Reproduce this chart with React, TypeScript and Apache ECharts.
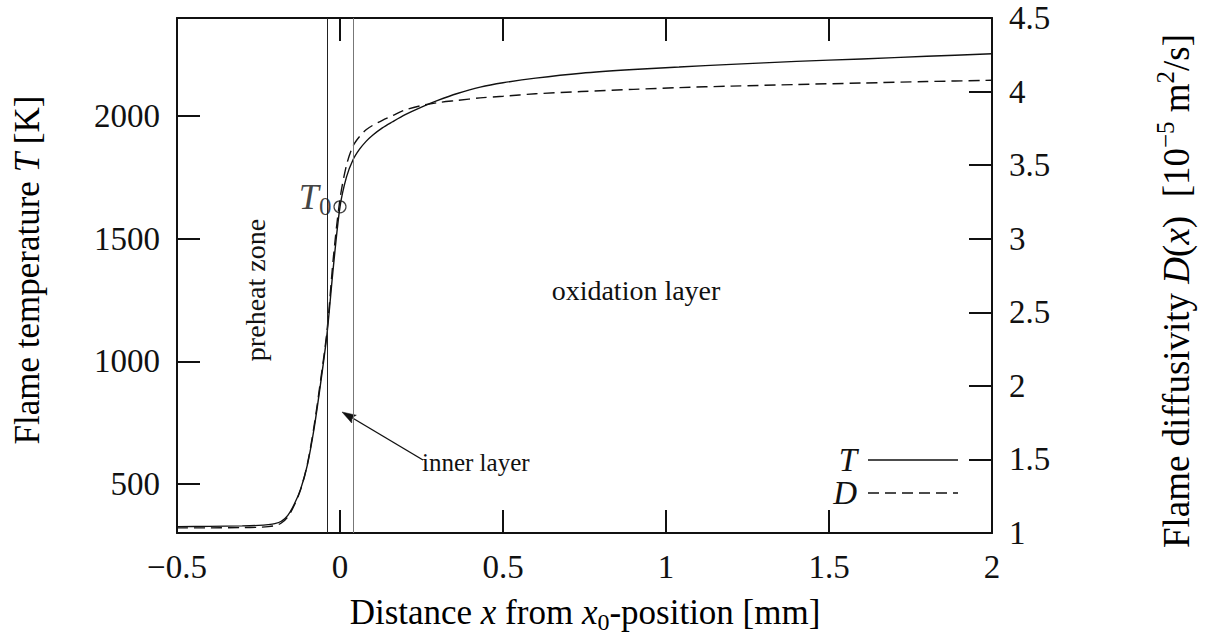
import React, { useEffect, useRef } from 'react';
import * as echarts from 'echarts';

// Distance from the x0 position [mm]
const xPos = [-0.5, -0.4, -0.3, -0.25, -0.22, -0.2, -0.18, -0.16, -0.14, -0.12, -0.1, -0.08, -0.06, -0.04, -0.02, 0, 0.02, 0.04, 0.06, 0.08, 0.1, 0.13, 0.16, 0.2, 0.25, 0.3, 0.36, 0.43, 0.5, 0.6, 0.74, 0.9, 1.04, 1.2, 1.4, 1.6, 1.8, 2.0];
// Flame temperature T [K]
const temperature = [326, 327, 329, 331, 334, 338, 348, 372, 418, 482, 578, 722, 905, 1110, 1390, 1630, 1752, 1822, 1865, 1897, 1922, 1952, 1976, 2006, 2037, 2064, 2092, 2118, 2136, 2155, 2175, 2190, 2200, 2211, 2223, 2233, 2244, 2254];
// Flame diffusivity D [1e-5 m^2/s]
const diffusivity = [1.035, 1.035, 1.037, 1.039, 1.043, 1.05, 1.068, 1.11, 1.19, 1.3, 1.47, 1.72, 2.03, 2.37, 2.88, 3.27, 3.5, 3.63, 3.695, 3.74, 3.77, 3.805, 3.835, 3.875, 3.905, 3.925, 3.94, 3.957, 3.968, 3.985, 4.0, 4.015, 4.027, 4.037, 4.048, 4.058, 4.068, 4.077];

// Reference temperature T0 at x = 0
const T0 = 1630;
// Inner layer boundaries [mm]
const innerLayer = [-0.042, 0.042];

// Left-axis tick values
const tTicks = [500, 1000, 1500, 2000];

const X_RANGE = [-0.5, 2];
const T_RANGE = [300, 2400];
const D_RANGE = [1, 4.5];
const TICK_LEN = 23;

const FONT = '"Liberation Serif", "Times New Roman", serif';
const INK = '#111';

const fmtX = (v: number) => (v < 0 ? '\u2212' + Math.abs(v) : String(v));
const fmtPlain = (v: number) => String(v);

const mkLine = () => ({ show: true, onZero: false, lineStyle: { color: INK, width: 2 } });
const mkTick = () => ({ show: true, inside: true, length: TICK_LEN, lineStyle: { color: INK, width: 2 } });
const mkLabel = () => ({ color: INK, fontFamily: FONT, fontSize: 33, margin: 17 });

const richBase = {
  n: { fontFamily: FONT, fontSize: 35, lineHeight: 44, color: INK },
  i: { fontFamily: FONT, fontSize: 35, fontStyle: 'italic', lineHeight: 44, color: INK },
  sup: { fontFamily: FONT, fontSize: 24, lineHeight: 26, verticalAlign: 'top', color: INK },
  sub: { fontFamily: FONT, fontSize: 24, lineHeight: 26, verticalAlign: 'bottom', color: INK },
};
const richRight = {
  n: { ...richBase.n, fontSize: 37, lineHeight: 46 },
  i: { ...richBase.i, fontSize: 37, lineHeight: 46 },
  sup: { ...richBase.sup, fontSize: 25, lineHeight: 27 },
  sub: { ...richBase.sub },
};

const annotations = () => [
  // axis titles
  {
    type: 'text', x: 27, y: 270, rotation: Math.PI / 2,
    style: {
      text: '{n|Flame temperature }{i|T}{n| [K]}', rich: richBase,
      align: 'center', verticalAlign: 'middle',
    },
  },
  {
    type: 'text', x: 1176, y: 291, rotation: Math.PI / 2,
    style: {
      text: '{n|Flame diffusivity }{i|D}{n|(}{i|x}{n|)  [10}{sup|\u22125}{n| m}{sup|2}{n|/s]}',
      rich: richRight, align: 'center', verticalAlign: 'middle',
    },
  },
  {
    type: 'text', x: 585, y: 612,
    style: {
      text: '{n|Distance }{i|x}{n| from }{i|x}{sub|0}{n|-position [mm]}',
      rich: richBase, align: 'center', verticalAlign: 'middle',
    },
  },
  // region annotations
  {
    type: 'text', x: 255, y: 290, rotation: Math.PI / 2,
    style: { text: 'preheat zone', font: `28px ${FONT}`, fill: INK, align: 'center', verticalAlign: 'middle' },
  },
  {
    type: 'text', x: 636, y: 290,
    style: { text: 'oxidation layer', font: `28px ${FONT}`, fill: INK, align: 'center', verticalAlign: 'middle' },
  },
  {
    type: 'text', x: 422, y: 462,
    style: { text: 'inner layer', font: `25px ${FONT}`, fill: INK, align: 'left', verticalAlign: 'middle' },
  },
  // arrow pointing into the inner layer
  {
    type: 'line',
    shape: { x1: 423, y1: 460, x2: 350, y2: 416.5 },
    style: { stroke: INK, lineWidth: 1.4 },
  },
  {
    type: 'polygon',
    shape: { points: [[342, 412], [356.3, 415.2], [352, 417.6], [351.7, 423.0]] },
    style: { fill: INK, stroke: INK, lineWidth: 0.5 },
  },
  // key
  {
    type: 'text', x: 857, y: 460,
    style: { text: 'T', font: `italic 33px ${FONT}`, fill: INK, align: 'right', verticalAlign: 'middle' },
  },
  {
    type: 'line', shape: { x1: 868, y1: 460, x2: 958, y2: 460 },
    style: { stroke: INK, lineWidth: 1.4 },
  },
  {
    type: 'text', x: 857, y: 493,
    style: { text: 'D', font: `italic 33px ${FONT}`, fill: INK, align: 'right', verticalAlign: 'middle' },
  },
  {
    type: 'line', shape: { x1: 868, y1: 493, x2: 958, y2: 493 },
    style: { stroke: INK, lineWidth: 1.4, lineDash: [11, 6] },
  },
];

export default function App() {
  const ref = useRef<HTMLDivElement>(null);

  useEffect(() => {
    const chart = echarts.init(ref.current!, null, { renderer: 'svg' });
    const tData = xPos.map((x, i) => [x, temperature[i]]);
    const dData = xPos.map((x, i) => [x, diffusivity[i]]);

    chart.setOption({
      animation: false,
      grid: { left: 177, right: 218, top: 18, bottom: 106 },
      xAxis: [
        {
          type: 'value', min: X_RANGE[0], max: X_RANGE[1], interval: 0.5, position: 'bottom',
          axisLine: mkLine(), axisTick: mkTick(), splitLine: { show: false },
          axisLabel: { ...mkLabel(), formatter: fmtX },
        },
        {
          type: 'value', min: X_RANGE[0], max: X_RANGE[1], interval: 0.5, position: 'top',
          axisLine: mkLine(), axisTick: mkTick(), splitLine: { show: false },
          axisLabel: { show: false },
        },
      ],
      yAxis: [
        {
          type: 'value', min: T_RANGE[0], max: T_RANGE[1], position: 'left',
          axisLine: mkLine(), axisTick: { ...mkTick(), customValues: tTicks }, splitLine: { show: false },
          axisLabel: { ...mkLabel(), formatter: fmtPlain, customValues: tTicks },
        },
        {
          type: 'value', min: D_RANGE[0], max: D_RANGE[1], interval: 0.5, position: 'right',
          axisLine: mkLine(), axisTick: mkTick(), splitLine: { show: false },
          axisLabel: { ...mkLabel(), formatter: fmtPlain },
        },
      ],
      series: [
        {
          name: 'T', type: 'line', xAxisIndex: 0, yAxisIndex: 0,
          data: tData, showSymbol: false, symbol: 'none', smooth: 0.3,
          lineStyle: { color: INK, width: 1.4 },
          markLine: {
            silent: true, symbol: 'none', label: { show: false },
            data: [
              { xAxis: innerLayer[0], lineStyle: { color: '#222', width: 1, type: 'solid' } },
              { xAxis: innerLayer[1], lineStyle: { color: '#777', width: 1, type: 'solid' } },
            ],
          },
        },
        {
          name: 'D', type: 'line', xAxisIndex: 0, yAxisIndex: 1,
          data: dData, showSymbol: false, symbol: 'none', smooth: 0.3,
          lineStyle: { color: INK, width: 1.4, type: [11, 6] },
        },
        {
          name: 'T0', type: 'scatter', xAxisIndex: 0, yAxisIndex: 0,
          data: [[0, T0]], symbol: 'circle', symbolSize: 12, z: 5,
          itemStyle: { color: 'rgba(0,0,0,0)', borderColor: INK, borderWidth: 1.2 },
          label: {
            show: true, position: 'left', distance: 2, offset: [0, -10],
            formatter: '{i|T}{sub|0}',
            rich: { i: { ...richBase.i, fontSize: 36 }, sub: { ...richBase.sub, fontSize: 25 } },
          },
        },
      ],
    });

    // Titles, region labels, arrow and key
    chart.setOption({ graphic: annotations() });

    return () => chart.dispose();
  }, []);

  return (
    <div
      ref={ref}
      style={{ position: 'fixed', left: 0, top: 0, width: 1210, height: 639, background: '#fff' }}
    />
  );
}
